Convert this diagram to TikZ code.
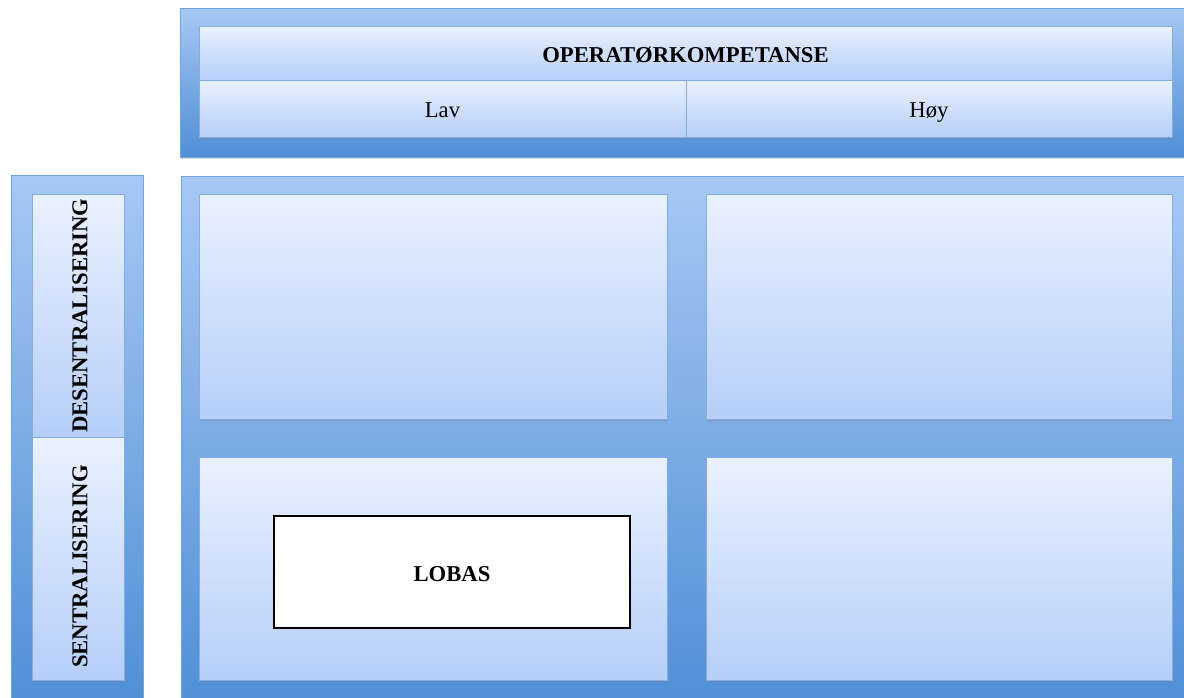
\documentclass[tikz,border=0pt]{standalone}
\usepackage{fontspec}
\setmainfont{Liberation Serif}
\usetikzlibrary{fit,shadows}
\definecolor{frameTop}{HTML}{A7C8F4}
\definecolor{frameBot}{HTML}{4F8ED5}
\definecolor{cellTop}{HTML}{E9F1FE}
\definecolor{cellBot}{HTML}{B6CEF8}
\definecolor{cellEdge}{HTML}{86ADE3}
\tikzset{
  frame/.style={inner sep=0pt, top color=frameTop, bottom color=frameBot,
    draw=frameBot!80!white, line width=0.4pt,
    drop shadow={shadow xshift=0.6pt, shadow yshift=-1.2pt, opacity=0.3}},
  cell/.style={inner sep=0pt, top color=cellTop, bottom color=cellBot,
    draw=cellEdge, line width=0.6pt,
    drop shadow={shadow xshift=0.6pt, shadow yshift=-1.6pt, opacity=0.45}},
  txt/.style={font=\fontsize{17}{20}\selectfont, text=black,
    text height=16pt, text depth=2pt, inner sep=0pt},
  bold/.style={txt, font=\fontsize{17}{20}\selectfont\bfseries},
  lobasbox/.style={inner sep=0pt, fill=white, draw=black, line width=2.2pt}
}
\begin{document}
\begin{tikzpicture}[x=0.75pt, y=-0.75pt]
  \useasboundingbox (0,0) rectangle (1184,697);

  % header: operator competence
  \node[frame, fit={(180,8) (1184,157)}] (topframe) {};
  \node[cell, fit={(199,26) (1172,80)}] (head) {};
  \node[cell, fit={(199,80) (686,137)}] (lav) {};
  \node[cell, fit={(686,80) (1172,137)}] (hoy) {};
  \node[bold] (headtxt) at (head.center) {OPERATØRKOMPETANSE};
  \node[txt] (lavtxt) at (lav.center) {Lav};
  \node[txt] (hoytxt) at (hoy.center) {Høy};

  % left column: degree of centralisation
  \node[frame, fit={(11,175) (143,710)}] (leftframe) {};
  \node[cell, fit={(32,194) (124,437)}] (desent) {};
  \node[cell, fit={(32,437) (124,680)}] (sent) {};
  \node[bold, rotate=90] (desenttxt) at (desent.center) {DESENTRALISERING};
  \node[bold, rotate=90] (senttxt) at ([yshift=-6pt]sent.center) {SENTRALISERING};

  % main matrix
  \node[frame, fit={(181,176) (1184,710)}] (mainframe) {};
  \node[cell, fit={(199,194) (667,419)}] (c11) {};
  \node[cell, fit={(706,194) (1172,419)}] (c12) {};
  \node[cell, fit={(199,457) (667,680)}] (c21) {};
  \node[cell, fit={(706,457) (1172,680)}] (c22) {};

  % placement of LOBAS
  \node[lobasbox, fit={(274,516) (630,628)}] (lobas) {};
  \node[bold] (lobastxt) at (lobas.center) {LOBAS};
\end{tikzpicture}
\end{document}
